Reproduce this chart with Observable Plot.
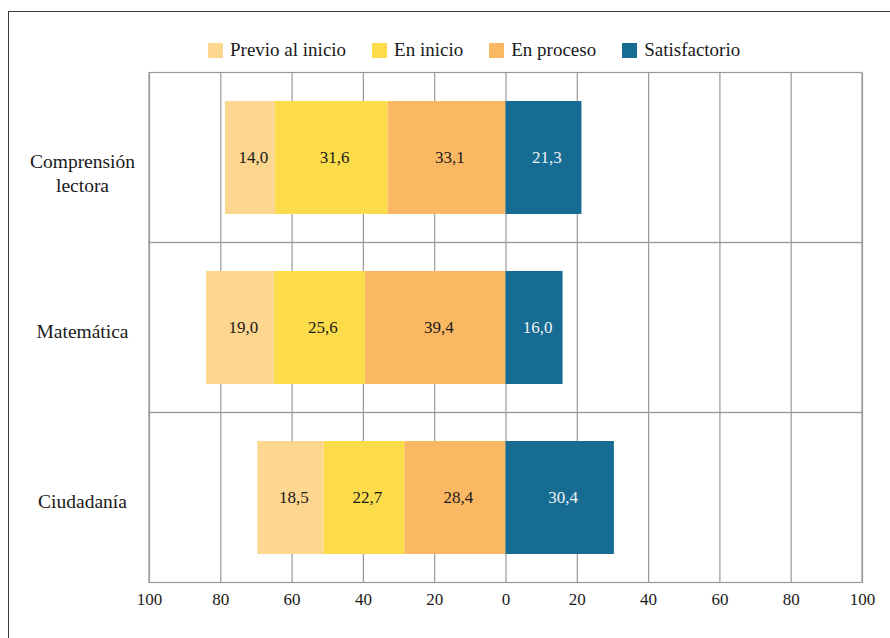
<!DOCTYPE html>
<html>
<head>
<meta charset="utf-8">
<script src="https://cdn.jsdelivr.net/npm/d3@7"></script>
<script src="https://cdn.jsdelivr.net/npm/@observablehq/plot@0.6"></script>
<style>
  html, body { margin: 0; padding: 0; background: #fff; }
  body { width: 890px; height: 638px; position: relative; overflow: hidden; font-family: 'Liberation Serif', serif; }
  #frame { position: absolute; left: 8px; top: 11px; width: 1000px; height: 1000px; border: 1.5px solid #3a3a3a; box-sizing: border-box; }
  #legend { position: absolute; left: 208px; top: 39px; display: flex; align-items: center; font-size: 19px; color: #1a1a1a; font-family: 'Liberation Serif', serif !important; }
  #legend .item { display: flex; align-items: center; margin-right: 26px; }
  #legend .sw { width: 15px; height: 15px; margin-right: 7px; }
  #chart { position: absolute; left: 0; top: 0; }
  #chart svg, #chart svg text { font-family: 'Liberation Serif', serif !important; }
</style>
</head>
<body>
<div id="frame"></div>
<div id="chart"></div>
<div id="legend"></div>
<script>
const subjects = ["Comprensión lectora", "Matemática", "Ciudadanía"];
const subjectLabels = ["Comprensión\nlectora", "Matemática", "Ciudadanía"];
const levels = ["Previo al inicio", "En inicio", "En proceso", "Satisfactorio"];
const levelColors = ["#FDD68F", "#FDDC4B", "#FBB862", "#176C93"];
const labelColors = ["#1a1a1a", "#1a1a1a", "#1a1a1a", "#eef2f5"];
const previo = [14.0, 19.0, 18.5];
const inicio = [31.6, 25.6, 22.7];
const proceso = [33.1, 39.4, 28.4];
const satisfactorio = [21.3, 16.0, 30.4];
const xTicks = [-100, -80, -60, -40, -20, 0, 20, 40, 60, 80, 100];

const FONT = "Liberation Serif";

// Diverging segments: negative side stacks proceso, inicio, previo outward from 0
const segments = [];
subjects.forEach((s, i) => {
  const p3 = proceso[i], p2 = inicio[i], p1 = previo[i], p4 = satisfactorio[i];
  segments.push({subject: s, level: levels[2], value: p3, x1: -p3, x2: 0});
  segments.push({subject: s, level: levels[1], value: p2, x1: -(p3 + p2), x2: -p3});
  segments.push({subject: s, level: levels[0], value: p1, x1: -(p3 + p2 + p1), x2: -(p3 + p2)});
  segments.push({subject: s, level: levels[3], value: p4, x1: 0, x2: p4});
});

const fmt = v => v.toFixed(1).replace(".", ",");

const plot = Plot.plot({
  width: 890,
  height: 638,
  marginTop: 73,
  marginBottom: 55,
  marginLeft: 149,
  marginRight: 28,
  style: "font-family: 'Liberation Serif', serif; font-size: 17px; color: #1a1a1a; background: transparent;",
  x: {domain: [-100, 100], ticks: xTicks, tickFormat: d => String(Math.abs(d))},
  y: {domain: subjects, paddingInner: 0.335, paddingOuter: 0.1675, axis: null},
  color: {domain: levels, range: levelColors},
  marks: [
    Plot.ruleX(xTicks, {stroke: "#9a9a9a", strokeWidth: 1.2}),
    Plot.barX(subjects, {x1: -100, x2: 100, y: d => d, fill: "none", stroke: "#9a9a9a", strokeWidth: 1.2, insetTop: -28.5, insetBottom: -28.5}),
    Plot.barX(segments, {x1: "x1", x2: "x2", y: "subject", fill: "level"}),
    Plot.text(segments, {
      x: d => (d.x1 + d.x2) / 2, y: "subject", text: d => fmt(d.value), dx: 3,
      fill: d => labelColors[levels.indexOf(d.level)], fontSize: 17, fontFamily: FONT
    }),
    Plot.axisX({ticks: xTicks, tickSize: 0, tickPadding: 9, fontSize: 17, fontFamily: FONT, tickFormat: d => String(Math.abs(d)), label: null}),
    Plot.text(subjects, {
      x: -100, y: d => d, text: (d, i) => subjectLabels[i], dx: -67, dy: -7,
      textAnchor: "middle", lineAnchor: "top", lineHeight: 1.24, fontSize: 19.5, fontFamily: FONT, fill: "#1a1a1a"
    })
  ]
});
document.getElementById("chart").appendChild(plot);

const legend = document.getElementById("legend");
levels.forEach((l, i) => {
  const item = document.createElement("div");
  item.className = "item";
  const sw = document.createElement("span");
  sw.className = "sw";
  sw.style.background = levelColors[i];
  const t = document.createElement("span");
  t.textContent = l;
  item.appendChild(sw);
  item.appendChild(t);
  legend.appendChild(item);
});
</script>
</body>
</html>
